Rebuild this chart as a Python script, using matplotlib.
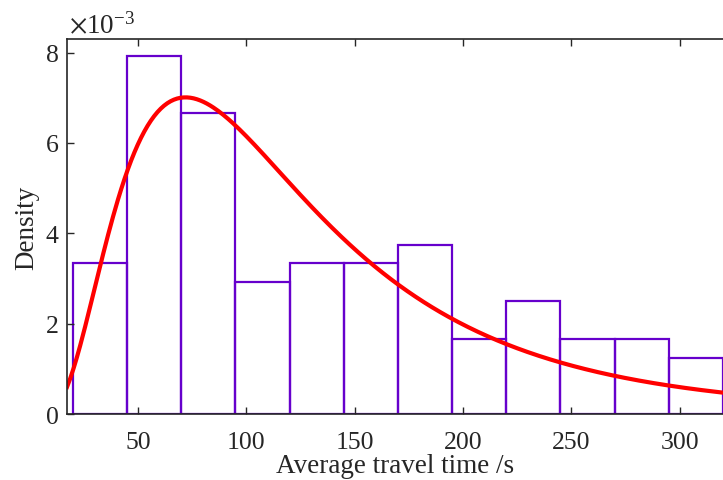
import numpy as np
import matplotlib.pyplot as plt
from matplotlib.ticker import FuncFormatter

# -------------------------
# Datos (histograma de tiempos de viaje)
# -------------------------
bin_edges = [20, 45, 70, 95, 120, 145, 170, 195, 220, 245, 270, 295, 320]
counts = [8, 19, 16, 7, 8, 8, 9, 4, 6, 4, 4, 3]

# Ajuste lognormal (parametros)
ln_mu = 4.69
ln_sigma = 0.643

x_min, x_max = 17.3, 320
y_max = 8.3e-3

plt.rcParams['font.family'] = ['Liberation Serif', 'DejaVu Serif']
plt.rcParams['mathtext.fontset'] = 'stix'

edges = np.array(bin_edges, dtype=float)
widths = np.diff(edges)
cnt = np.array(counts, dtype=float)
density = cnt / (cnt.sum() * widths)

fig = plt.figure(figsize=(7.23, 4.81), dpi=100)
ax = fig.add_axes([0.0927, 0.137, 0.9073, 0.7798])

ax.bar(edges[:-1], density, width=widths, align='edge', facecolor='none',
       edgecolor='#6600CC', linewidth=1.6)

xs = np.linspace(x_min, x_max, 400)
pdf = np.exp(-(np.log(xs) - ln_mu) ** 2 / (2 * ln_sigma ** 2)) / (xs * ln_sigma * np.sqrt(2 * np.pi))
ax.plot(xs, pdf, color='#FF0000', linewidth=3)

ax.set_xlim(x_min, x_max)
ax.set_ylim(0, y_max)
ax.set_xticks([50, 100, 150, 200, 250, 300])
ax.set_yticks([0, 2e-3, 4e-3, 6e-3, 8e-3])
ax.yaxis.set_major_formatter(FuncFormatter(lambda v, p: f"{v * 1e3:g}"))
ax.tick_params(direction='in', length=5, width=1, labelsize=18.5, top=True,
               right=False, colors='#262626')
ax.tick_params(axis='x', pad=12)
ax.tick_params(axis='y', pad=6)
for s in ['left', 'bottom', 'top']:
    ax.spines[s].set_linewidth(1.2)
    ax.spines[s].set_color('#262626')
ax.spines['right'].set_visible(False)

ax.set_xlabel("Average travel time /s", fontsize=19.5, color='#262626', labelpad=0)
ax.set_ylabel("Density", fontsize=19.5, color='#262626', labelpad=5)
fig.text(0.096, 0.93, r"$\times$10$^{\mathregular{-3}}$", fontsize=19.5, color='#262626')

fig.savefig("out.png", dpi=100)
